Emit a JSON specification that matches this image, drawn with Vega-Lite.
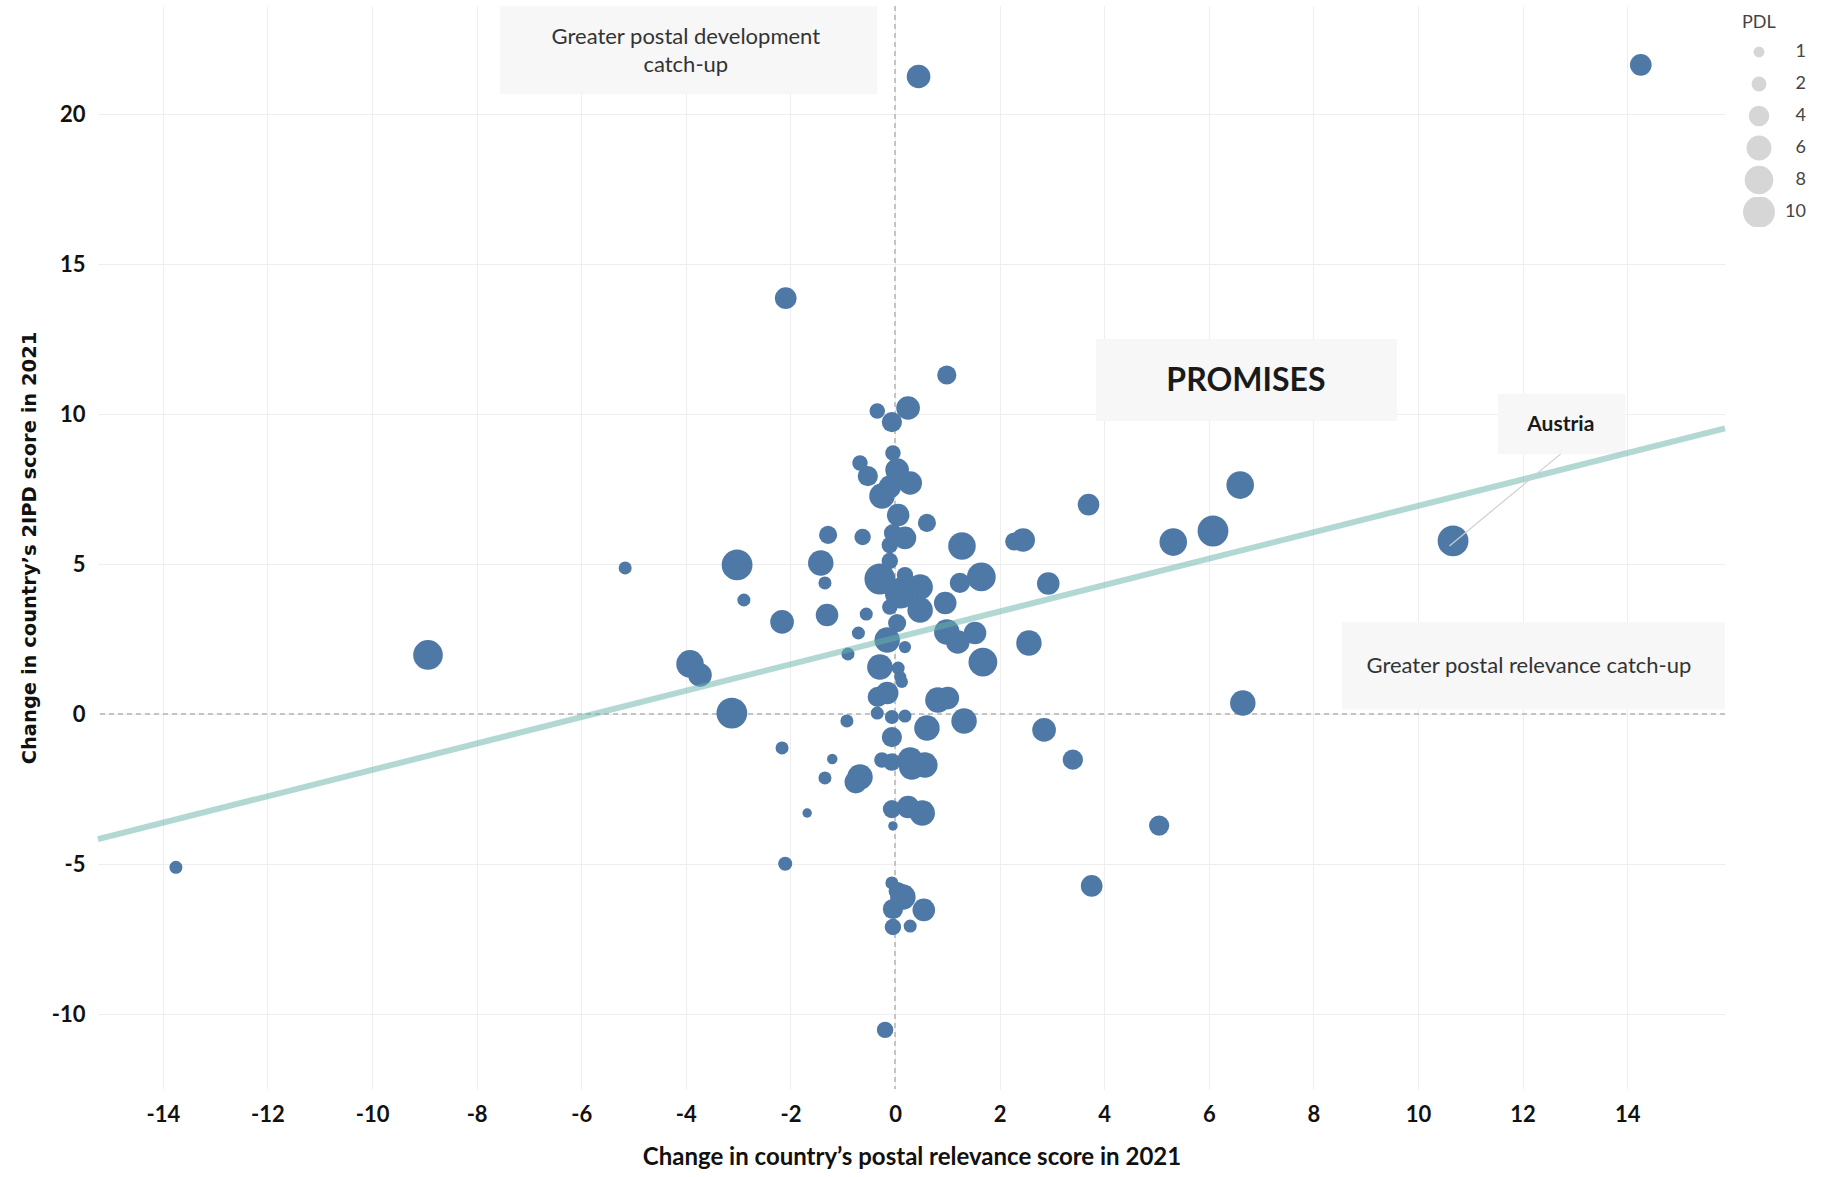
{
  "$schema": "https://vega.github.io/schema/vega-lite/v6.json",
  "width": 1627,
  "height": 1083,
  "autosize": {"type": "none"},
  "padding": {"left": 98, "top": 6, "right": 97, "bottom": 88},
  "background": "white",
  "datasets": {
    "countries": [
      {"x": 0.45, "y": 21.25, "pdl": 5.4},
      {"x": 14.26, "y": 21.64, "pdl": 4.5},
      {"x": -2.09, "y": 13.86, "pdl": 4.5},
      {"x": 0.99, "y": 11.3, "pdl": 3.5},
      {"x": -0.34, "y": 10.1, "pdl": 2.2},
      {"x": 0.25, "y": 10.2, "pdl": 5.4},
      {"x": -0.06, "y": 9.73, "pdl": 3.9},
      {"x": -0.04, "y": 8.7, "pdl": 2.2},
      {"x": -0.67, "y": 8.37, "pdl": 2.2},
      {"x": -0.52, "y": 7.93, "pdl": 3.9},
      {"x": 0.04, "y": 8.13, "pdl": 5.4},
      {"x": 0.29, "y": 7.7, "pdl": 5.4},
      {"x": -0.25, "y": 7.27, "pdl": 6.3},
      {"x": -0.1, "y": 7.57, "pdl": 4.9},
      {"x": 0.06, "y": 6.63, "pdl": 4.9},
      {"x": 0.61, "y": 6.37, "pdl": 3.1},
      {"x": -1.28, "y": 5.97, "pdl": 3.1},
      {"x": -0.62, "y": 5.9, "pdl": 2.5},
      {"x": -0.04, "y": 6.03, "pdl": 3.1},
      {"x": 0.19, "y": 5.87, "pdl": 4.9},
      {"x": 1.28, "y": 5.6, "pdl": 7.4},
      {"x": -0.1, "y": 5.63, "pdl": 2.5},
      {"x": 2.28, "y": 5.75, "pdl": 3.1},
      {"x": 2.45, "y": 5.8, "pdl": 5.4},
      {"x": -1.42, "y": 5.03, "pdl": 6.3},
      {"x": -1.34, "y": 4.37, "pdl": 1.5},
      {"x": -1.3, "y": 3.3, "pdl": 4.9},
      {"x": -0.55, "y": 3.33, "pdl": 1.5},
      {"x": -0.7, "y": 2.7, "pdl": 1.5},
      {"x": -0.9, "y": 2.0, "pdl": 1.5},
      {"x": -0.1, "y": 5.1, "pdl": 2.5},
      {"x": -0.29, "y": 4.5, "pdl": 9.3},
      {"x": 0.19, "y": 4.63, "pdl": 2.5},
      {"x": 0.48, "y": 4.23, "pdl": 6.3},
      {"x": 0.1, "y": 4.03, "pdl": 9.3},
      {"x": -0.1, "y": 3.57, "pdl": 2.2},
      {"x": 0.48, "y": 3.47, "pdl": 6.3},
      {"x": 0.96, "y": 3.7, "pdl": 4.9},
      {"x": 1.24, "y": 4.37, "pdl": 3.9},
      {"x": 1.65, "y": 4.57, "pdl": 8.1},
      {"x": 0.04, "y": 3.03, "pdl": 3.1},
      {"x": 0.99, "y": 2.73, "pdl": 6.3},
      {"x": 1.2, "y": 2.4, "pdl": 5.4},
      {"x": 1.53, "y": 2.7, "pdl": 4.9},
      {"x": 1.68, "y": 1.73, "pdl": 8.1},
      {"x": -0.15, "y": 2.47, "pdl": 6.3},
      {"x": 0.19, "y": 2.23, "pdl": 1.3},
      {"x": -0.29, "y": 1.57, "pdl": 6.3},
      {"x": 0.06, "y": 1.53, "pdl": 1.5},
      {"x": 0.13, "y": 1.07, "pdl": 1.3},
      {"x": 0.1, "y": 1.23, "pdl": 1.3},
      {"x": -0.15, "y": 0.7, "pdl": 4.9},
      {"x": -0.33, "y": 0.57, "pdl": 3.9},
      {"x": 0.82, "y": 0.47, "pdl": 6.3},
      {"x": 1.01, "y": 0.53, "pdl": 4.9},
      {"x": -0.92, "y": -0.23, "pdl": 1.5},
      {"x": -0.34, "y": 0.03, "pdl": 1.5},
      {"x": -0.06, "y": -0.1, "pdl": 1.8},
      {"x": 0.19, "y": -0.07, "pdl": 1.5},
      {"x": -0.06, "y": -0.77, "pdl": 3.9},
      {"x": 0.61, "y": -0.47, "pdl": 6.3},
      {"x": 1.32, "y": -0.23, "pdl": 6.3},
      {"x": -1.2, "y": -1.5, "pdl": 0.9},
      {"x": -1.34, "y": -2.13, "pdl": 1.5},
      {"x": -0.67, "y": -2.1, "pdl": 6.3},
      {"x": -0.75, "y": -2.27, "pdl": 4.9},
      {"x": -0.25, "y": -1.53, "pdl": 2.2},
      {"x": -0.06, "y": -1.6, "pdl": 2.9},
      {"x": 0.29, "y": -1.53, "pdl": 6.3},
      {"x": 0.32, "y": -1.77, "pdl": 6.3},
      {"x": 0.57, "y": -1.7, "pdl": 6.3},
      {"x": -0.06, "y": -3.17, "pdl": 3.1},
      {"x": 0.25, "y": -3.1, "pdl": 4.9},
      {"x": 0.52, "y": -3.3, "pdl": 6.3},
      {"x": -0.04, "y": -3.73, "pdl": 0.7},
      {"x": -0.06, "y": -5.63, "pdl": 1.5},
      {"x": 0.05, "y": -5.9, "pdl": 3.1},
      {"x": 0.15, "y": -6.1, "pdl": 6.3},
      {"x": -0.04, "y": -6.5, "pdl": 3.9},
      {"x": 0.55, "y": -6.53, "pdl": 4.9},
      {"x": -0.04, "y": -7.1, "pdl": 2.5},
      {"x": 0.29, "y": -7.07, "pdl": 1.5},
      {"x": -0.19, "y": -10.53, "pdl": 2.5},
      {"x": -5.16, "y": 4.87, "pdl": 1.5},
      {"x": -3.02, "y": 4.97, "pdl": 9.3},
      {"x": -2.89, "y": 3.8, "pdl": 1.5},
      {"x": -2.16, "y": 3.07, "pdl": 5.4},
      {"x": -3.92, "y": 1.67, "pdl": 7.4},
      {"x": -3.73, "y": 1.3, "pdl": 5.4},
      {"x": -3.12, "y": 0.03, "pdl": 9.3},
      {"x": -2.16, "y": -1.13, "pdl": 1.5},
      {"x": -1.68, "y": -3.3, "pdl": 0.7},
      {"x": -8.93, "y": 1.97, "pdl": 8.6},
      {"x": -13.75, "y": -5.11, "pdl": 1.5},
      {"x": -2.1, "y": -4.99, "pdl": 1.8},
      {"x": 3.7, "y": 6.98, "pdl": 4.5},
      {"x": 2.93, "y": 4.35, "pdl": 4.9},
      {"x": 2.56, "y": 2.37, "pdl": 6.3},
      {"x": 2.85, "y": -0.53, "pdl": 5.4},
      {"x": 3.4, "y": -1.52, "pdl": 3.9},
      {"x": 5.32, "y": 5.73, "pdl": 7.4},
      {"x": 6.08, "y": 6.1, "pdl": 9.3},
      {"x": 6.6, "y": 7.63, "pdl": 7.4},
      {"x": 6.65, "y": 0.37, "pdl": 6.3},
      {"x": 5.05, "y": -3.72, "pdl": 3.9},
      {"x": 3.76, "y": -5.73, "pdl": 4.5},
      {"x": 10.67, "y": 5.77, "pdl": 9.3}
    ],
    "boxes": [
      {"x": -7.55, "x2": -0.34, "y": 23.6, "y2": 20.67},
      {"x": 3.84, "x2": 9.6, "y": 12.5, "y2": 9.77},
      {"x": 11.53, "x2": 13.97, "y": 10.67, "y2": 8.67},
      {"x": 8.55, "x2": 15.87, "y": 3.07, "y2": 0.15}
    ],
    "vref": [{"x": 0}],
    "href": [{"y": 0}],
    "trend": [{"x": -15.24, "y": -4.17}, {"x": 15.87, "y": 9.52}],
    "leader": [{"x": 12.73, "y": 8.67, "x2": 10.6, "y2": 5.6}],
    "notes": [
      {"x": -4.0, "y": 22.57, "label": "Greater postal development"},
      {"x": -4.0, "y": 21.63, "label": "catch-up"},
      {"x": 12.12, "y": 1.6, "label": "Greater postal relevance catch-up"}
    ],
    "heads": [{"x": 6.71, "y": 11.1, "label": "PROMISES"}],
    "named": [{"x": 12.73, "y": 9.65, "label": "Austria"}]
  },
  "layer": [
    {
      "data": {"name": "boxes"},
      "mark": {"type": "rect", "fill": "#f7f7f7"},
      "encoding": {
        "x": {"field": "x", "type": "quantitative", "scale": {"domain": [-15.24, 15.87], "nice": false, "zero": false}},
        "x2": {"field": "x2"},
        "y": {"field": "y", "type": "quantitative", "scale": {"domain": [-12.5, 23.6], "nice": false, "zero": false}},
        "y2": {"field": "y2"}
      }
    },
    {
      "data": {"name": "vref"},
      "mark": {"type": "rule", "color": "#c4c4c4", "strokeWidth": 2, "strokeDash": [5, 4]},
      "encoding": {"x": {"field": "x", "type": "quantitative"}}
    },
    {
      "data": {"name": "href"},
      "mark": {"type": "rule", "color": "#c4c4c4", "strokeWidth": 2, "strokeDash": [5, 4]},
      "encoding": {"y": {"field": "y", "type": "quantitative"}}
    },
    {
      "data": {"name": "countries"},
      "mark": {"type": "circle", "fill": "#d6d6d6", "stroke": "#b0b0b0", "strokeWidth": 1.5, "opacity": 0},
      "encoding": {
        "x": {"field": "x", "type": "quantitative"},
        "y": {"field": "y", "type": "quantitative"},
        "size": {"field": "pdl", "type": "quantitative",
          "scale": {"type": "linear", "domain": [0, 10], "range": [20, 1020]},
          "legend": {"title": "PDL", "values": [1, 2, 4, 6, 8, 10], "orient": "none", "legendX": 1644, "legendY": 8, "clipHeight": 30, "rowPadding": 2, "symbolType": "circle", "symbolOpacity": 1, "symbolFillColor": "#d6d6d6", "symbolStrokeColor": "#b0b0b0", "symbolStrokeWidth": 1.5, "labelFont": "Lato", "labelFontSize": 18, "labelColor": "#444", "labelAlign": "right", "labelOffset": 30, "titleFont": "Lato", "titleFontSize": 18, "titleFontWeight": "normal", "titleColor": "#444", "titlePadding": 5}}
      }
    },
    {
      "data": {"name": "countries"},
      "mark": {"type": "circle", "color": "#4e79a7", "opacity": 1},
      "encoding": {
        "x": {"field": "x", "type": "quantitative",
          "axis": {"title": "Change in country’s postal relevance score in 2021", "values": [-14, -12, -10, -8, -6, -4, -2, 0, 2, 4, 6, 8, 10, 12, 14], "labelExpr": "toString(datum.value)", "labelPadding": 15, "titleFont": "Lato", "titleFontSize": 24, "titleFontWeight": "bold", "titlePadding": 20}},
        "y": {"field": "y", "type": "quantitative",
          "axis": {"title": "Change in country’s 2IPD score in 2021", "values": [-10, -5, 0, 5, 10, 15, 20], "labelExpr": "toString(datum.value)", "labelPadding": 13, "titleFont": "DejaVu Sans", "titleFontSize": 19.5, "titleFontWeight": "bold", "titlePadding": 12}},
        "size": {"field": "pdl", "type": "quantitative", "legend": null}
      }
    },
    {
      "data": {"name": "trend"},
      "mark": {"type": "line", "color": "#65b1a9", "opacity": 0.5, "strokeWidth": 6},
      "encoding": {
        "x": {"field": "x", "type": "quantitative"},
        "y": {"field": "y", "type": "quantitative"}
      }
    },
    {
      "data": {"name": "leader"},
      "mark": {"type": "rule", "color": "#cfcfcf", "strokeWidth": 1.2},
      "encoding": {
        "x": {"field": "x", "type": "quantitative"},
        "y": {"field": "y", "type": "quantitative"},
        "x2": {"field": "x2"},
        "y2": {"field": "y2"}
      }
    },
    {
      "data": {"name": "notes"},
      "mark": {"type": "text", "font": "Lato", "fontSize": 22, "color": "#333", "align": "center", "baseline": "middle"},
      "encoding": {
        "x": {"field": "x", "type": "quantitative"},
        "y": {"field": "y", "type": "quantitative"},
        "text": {"field": "label"}
      }
    },
    {
      "data": {"name": "heads"},
      "mark": {"type": "text", "font": "Lato", "fontSize": 32, "fontWeight": "bold", "color": "#1a1a1a", "align": "center", "baseline": "middle"},
      "encoding": {
        "x": {"field": "x", "type": "quantitative"},
        "y": {"field": "y", "type": "quantitative"},
        "text": {"field": "label"}
      }
    },
    {
      "data": {"name": "named"},
      "mark": {"type": "text", "font": "Lato", "fontSize": 21, "fontWeight": "bold", "color": "#1a1a1a", "align": "center", "baseline": "middle"},
      "encoding": {
        "x": {"field": "x", "type": "quantitative"},
        "y": {"field": "y", "type": "quantitative"},
        "text": {"field": "label"}
      }
    }
  ],
  "config": {
    "view": {"stroke": null},
    "font": "Lato",
    "axis": {"grid": true, "gridColor": "#eeeeee", "gridWidth": 1, "domain": false, "ticks": false, "labelFont": "Lato", "labelFontWeight": "bold", "labelFontSize": 22, "labelColor": "#111", "titleColor": "#111"}
  }
}
